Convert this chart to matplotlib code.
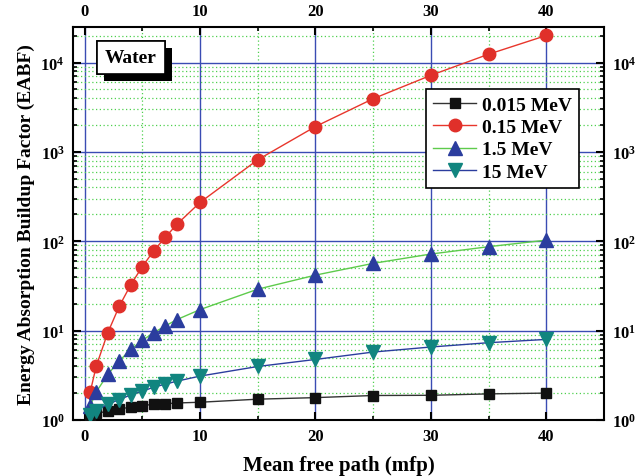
import numpy as np
import matplotlib
matplotlib.use("Agg")
import matplotlib.pyplot as plt
import matplotlib.patheffects as pe
from matplotlib.ticker import LogLocator, MultipleLocator, NullFormatter

plt.rcParams['font.family'] = ['Liberation Serif', 'DejaVu Serif']
plt.rcParams['font.weight'] = 'bold'
plt.rcParams['mathtext.fontset'] = 'custom'
plt.rcParams['mathtext.rm'] = 'Liberation Serif:bold'
plt.rcParams['mathtext.it'] = 'Liberation Serif:bold'
plt.rcParams['mathtext.bf'] = 'Liberation Serif:bold'

# mean free path (mfp)
mfp = [0.5, 1, 2, 3, 4, 5, 6, 7, 8, 10, 15, 20, 25, 30, 35, 40]

# EABF for water at each photon energy
eabf_0015 = [1.12, 1.19, 1.25, 1.33, 1.39, 1.45, 1.50, 1.52, 1.55, 1.58,
             1.71, 1.78, 1.88, 1.89, 1.96, 2.00]
eabf_015 = [2.08, 3.97, 9.4, 18.7, 32.6, 52, 78.6, 111, 155, 272,
            817, 1923, 3940, 7200, 12400, 20100]
eabf_15 = [1.45, 2.05, 3.23, 4.57, 6.17, 7.78, 9.5, 11.3, 13.3, 17.2,
           29.1, 41.8, 56.6, 72, 87, 103]
eabf_150 = [1.15, 1.27, 1.50, 1.69, 1.91, 2.10, 2.33, 2.52, 2.72, 3.10,
            3.97, 4.76, 5.76, 6.56, 7.33, 7.98]

labels = ['0.015 MeV', '0.15 MeV', '1.5 MeV', '15 MeV']

fig = plt.figure(figsize=(6.44, 4.77), dpi=100)
ax = fig.add_axes([0.1134, 0.1174, 0.8246, 0.8239])

ax.plot(mfp, eabf_0015, color='#333333', lw=1, marker='s', ms=7.5,
        mfc='#111111', mec='#111111', label=labels[0], zorder=5)
ax.plot(mfp, eabf_015, color='#e8362c', lw=1, marker='o', ms=9,
        mfc='#e0302a', mec='#e0302a', label=labels[1], zorder=5)
ax.plot(mfp, eabf_15, color='#5ecb4c', lw=1, marker='^', ms=9.5,
        mfc='#2b3d9e', mec='#2b3d9e', label=labels[2], zorder=5)
ax.plot(mfp, eabf_150, color='#2b3d9e', lw=1, marker='v', ms=9.5,
        mfc='#11857f', mec='#11857f', label=labels[3], zorder=5)

ax.set_yscale('log')
ax.set_xlim(-1, 45)
ax.set_ylim(1, 2.5e4)

ax.xaxis.set_major_locator(MultipleLocator(10))
ax.xaxis.set_minor_locator(MultipleLocator(5))
ax.yaxis.set_major_locator(LogLocator(base=10, numticks=10))
ax.yaxis.set_minor_locator(LogLocator(base=10, subs=np.arange(2, 10), numticks=20))
ax.yaxis.set_minor_formatter(NullFormatter())

ax.grid(which='major', color='#3a4cb3', lw=1, ls='-', zorder=1)
ax.grid(which='minor', color='#4fd04f', lw=0.9, ls=(0, (1, 2)), zorder=1)
ax.set_axisbelow(True)

ax.tick_params(which='major', direction='in', length=6, width=1.5,
               top=True, right=True, labeltop=True, labelright=True,
               labelsize=12, pad=6)
ax.tick_params(which='minor', direction='in', length=3, width=1.2,
               top=True, right=True)
for s in ax.spines.values():
    s.set_linewidth(1.5)

ax.set_xlabel('Mean free path (mfp)', fontsize=15, fontweight='bold', labelpad=8)
ax.set_ylabel('Energy Absorption Buildup Factor (EABF)', fontsize=14,
              fontweight='bold', labelpad=4)

leg = ax.legend(loc='upper right', bbox_to_anchor=(0.952, 0.842),
                fontsize=14, frameon=True, fancybox=False, framealpha=1,
                edgecolor='black', handlelength=2.2, handletextpad=0.3,
                borderpad=0.35, labelspacing=0.25, borderaxespad=0)
leg.get_frame().set_linewidth(1.2)
leg.set_zorder(10)

t = ax.text(0.109, 0.922, 'Water', transform=ax.transAxes, fontsize=14,
            fontweight='bold', ha='center', va='center', zorder=10,
            bbox=dict(boxstyle='square,pad=0.4', fc='white', ec='black', lw=1.2))
t.get_bbox_patch().set_path_effects([
    pe.withSimplePatchShadow(offset=(5, -5), shadow_rgbFace='black', alpha=1),
    pe.Normal()])

fig.savefig('out.png', dpi=100)
